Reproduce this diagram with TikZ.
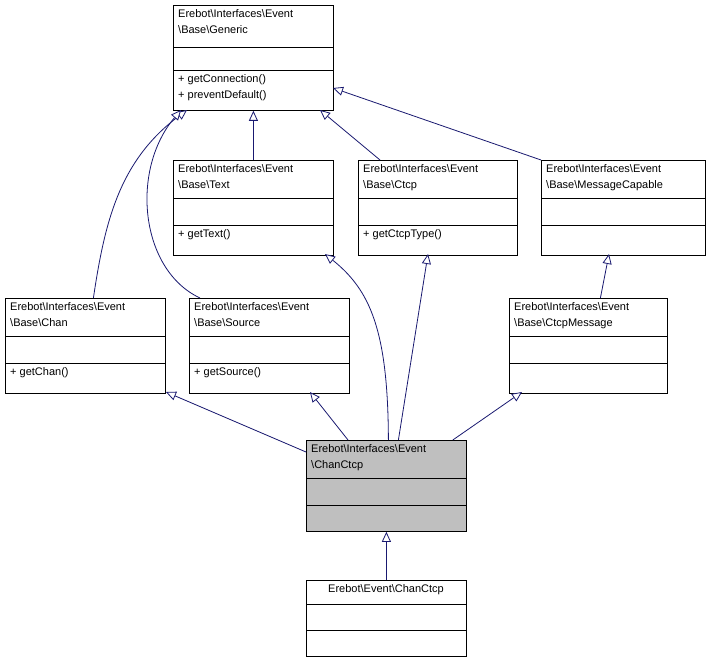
\documentclass[tikz,border=0pt]{standalone}
\usepackage{fontspec}
\setmainfont{Liberation Sans}
\usetikzlibrary{arrows.meta}
\definecolor{edge}{HTML}{191970}
\definecolor{hl}{HTML}{BFBFBF}
\tikzset{
  cbox/.style={draw=black, line width=0.8pt, anchor=north west, inner sep=0pt},
  txt/.style={anchor=north west, inner sep=0pt, align=left, font=\fontsize{11}{16}\selectfont},
  inh/.style={draw=edge, line width=0.8pt, -{Triangle[open, length=10pt, width=9pt, fill=white]}}
}
\tikzset{boxfill/.style={fill=white}}
% name, x1, y1, x2, y2, sep1, sep2, title, methods
\newcommand{\umlbox}[9]{%
  \node[cbox, boxfill, minimum width=#4pt-#2pt, minimum height=#5pt-#3pt] (#1) at (#2pt,-#3pt) {};
  \draw[line width=0.8pt] (#2pt,-#6pt) -- (#4pt,-#6pt);
  \draw[line width=0.8pt] (#2pt,-#7pt) -- (#4pt,-#7pt);
  \node[txt] (#1t) at (#2pt+5pt,-#3pt-4pt) {#8};
  \node[txt] (#1m) at (#2pt+5pt,-#7pt-4pt) {#9};
}
\begin{document}
\begin{tikzpicture}[x=1pt,y=1pt]
\useasboundingbox[fill=white] (0,0) rectangle (709,-663);
\umlbox{gen}{173}{5}{333}{110}{47}{70}{Erebot\textbackslash Interfaces\textbackslash Event\\\textbackslash Base\textbackslash Generic}{+ getConnection()\\+ preventDefault()}
\umlbox{text}{173}{160}{333}{255}{198}{225}{Erebot\textbackslash Interfaces\textbackslash Event\\\textbackslash Base\textbackslash Text}{+ getText()}
\umlbox{ctcp}{358}{160}{517}{255}{198}{225}{Erebot\textbackslash Interfaces\textbackslash Event\\\textbackslash Base\textbackslash Ctcp}{+ getCtcpType()}
\umlbox{msg}{541}{160}{705}{255}{198}{225}{Erebot\textbackslash Interfaces\textbackslash Event\\\textbackslash Base\textbackslash MessageCapable}{}
\umlbox{chan}{5}{298}{165}{393}{336}{363}{Erebot\textbackslash Interfaces\textbackslash Event\\\textbackslash Base\textbackslash Chan}{+ getChan()}
\umlbox{src}{189}{298}{349}{393}{336}{363}{Erebot\textbackslash Interfaces\textbackslash Event\\\textbackslash Base\textbackslash Source}{+ getSource()}
\umlbox{cmsg}{509}{298}{667}{393}{336}{363}{Erebot\textbackslash Interfaces\textbackslash Event\\\textbackslash Base\textbackslash CtcpMessage}{}
\tikzset{boxfill/.style={fill=hl}}
\umlbox{cc}{306}{440}{466}{531}{478}{505}{Erebot\textbackslash Interfaces\textbackslash Event\\\textbackslash ChanCtcp}{}
\tikzset{boxfill/.style={fill=white}}
\umlbox{ecc}{306}{580}{466}{656}{604}{630}{}{}
\node[txt, anchor=north] (ecct) at (386,-584) {Erebot\textbackslash Event\textbackslash ChanCtcp};
% edges
\draw[inh] (text.north) -- (gen.south);
\draw[inh] (ctcp.north west) ++(22,0) -- (320,-110);
\draw[inh] (msg.north west) -- (333,-88);
\draw[inh] (chan.north) ++(8,0) .. controls (105,-220) and (120,-160) .. (187,-110);
\draw[inh] (src.north west) ++(11,0) .. controls (140,-270) and (130,-170) .. (181,-110);
\draw[inh] (cc.north west) ++(0,-12) -- (166,-392);
\draw[inh] (cc.north west) ++(42,0) -- (310,-392);
\draw[inh] (cc.north) ++(2,0) .. controls (388,-330) and (370,-290) .. (325,-254);
\draw[inh] (cc.north) ++(12,0) -- (428,-254);
\draw[inh] (cc.north east) ++(-14,0) -- (522,-392);
\draw[inh] (cmsg.north) ++(12,0) -- (609,-254);
\draw[inh] (ecc.north) -- (cc.south);
\end{tikzpicture}
\end{document}
